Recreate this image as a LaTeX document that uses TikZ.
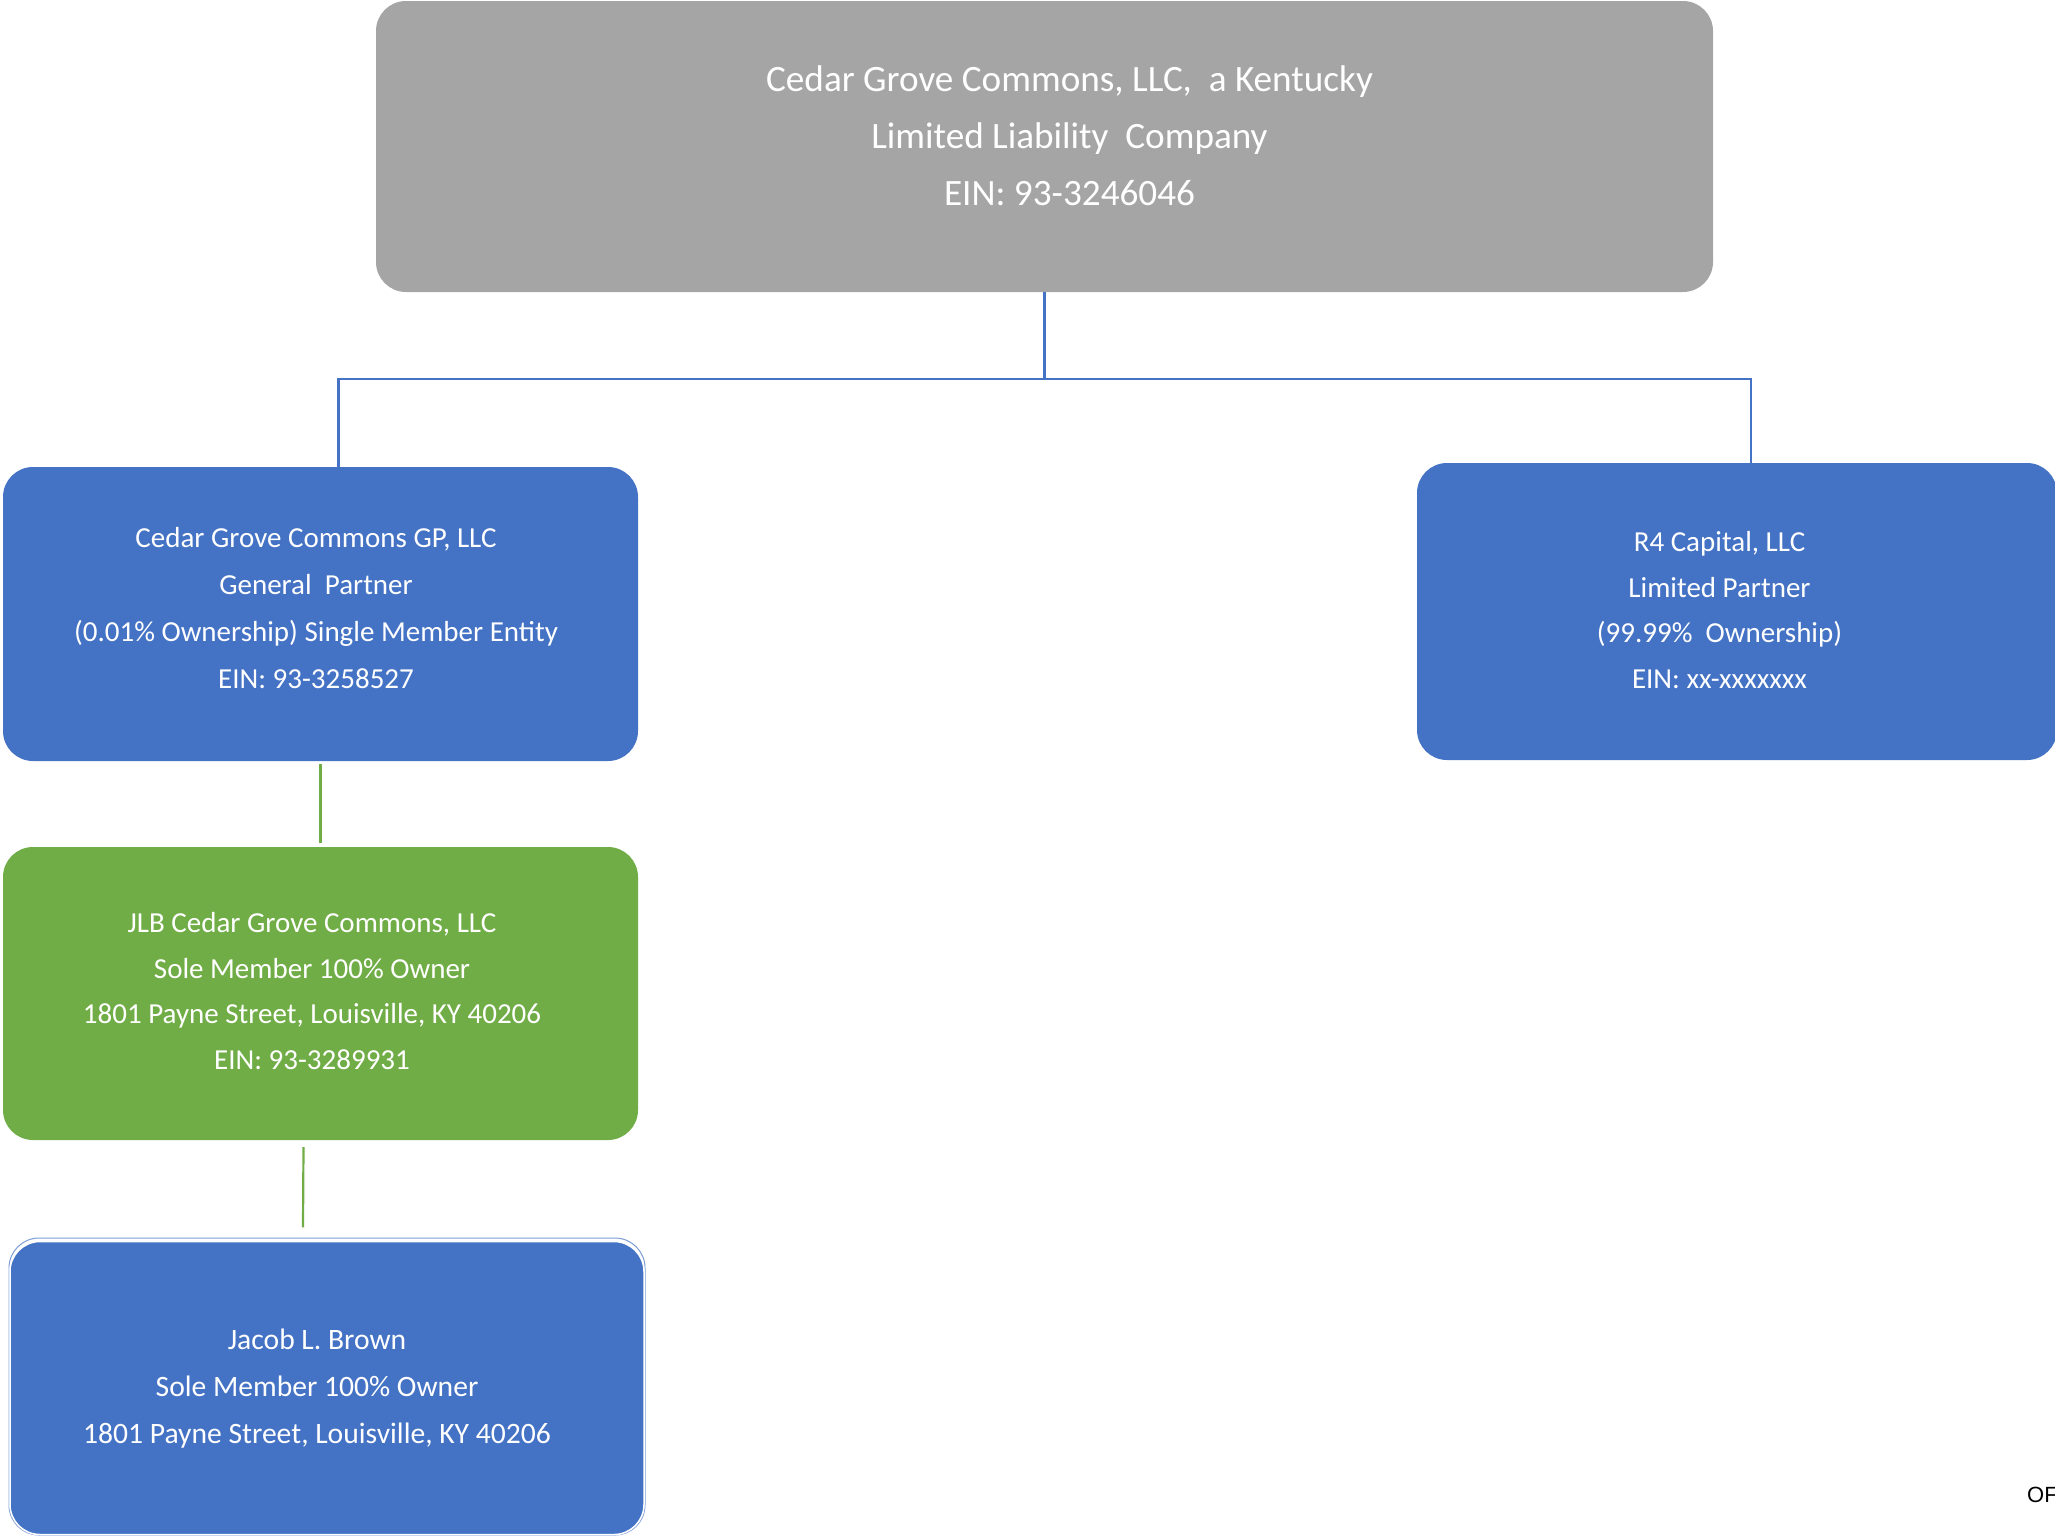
\documentclass[tikz,border=0pt]{standalone}
\usepackage{fontspec}
\setmainfont{Carlito}
\newfontfamily\arialfont{Liberation Sans}
\definecolor{boxgray}{HTML}{A5A5A5}
\definecolor{boxblue}{HTML}{4472C4}
\definecolor{boxgreen}{HTML}{70AD47}
\begin{document}
\begin{tikzpicture}[x=1pt,y=-1pt,
  orgbox/.style={rounded corners=30pt, inner sep=0pt},
  bluebox/.style={orgbox, fill=boxblue},
  greenbox/.style={orgbox, fill=boxgreen},
  graybox/.style={orgbox, fill=boxgray},
  boxtext/.style={text=white, align=center, inner sep=0pt, font={\fontsize{29}{47}\selectfont}},
  toptext/.style={boxtext, font={\fontsize{37.2}{57}\selectfont}},
  conn/.style={draw=boxblue, line width=2.2pt},
  gconn/.style={draw=boxgreen, line width=2.2pt}]
\useasboundingbox (0,0) rectangle (2055,1537);
\node[graybox, minimum width=1337pt, minimum height=291pt] (top) at (1044.5,146.5) {};
\node[toptext] (topT) at (1069.5,136)
  {Cedar Grove Commons, LLC,~ a Kentucky\\Limited Liability~ Company\\EIN: 93-3246046};
\node[bluebox, minimum width=635pt, minimum height=294pt] (gp) at (320.5,614) {};
\node[boxtext] (gpT) at (316,608)
  {Cedar Grove Commons GP, LLC\\General~ Partner\\(0.01\% Ownership) Single Member Entity\\EIN: 93-3258527};
\node[bluebox, minimum width=640pt, minimum height=297pt] (r4) at (1737,611.5) {};
\node[boxtext, font={\fontsize{29}{45.5}\selectfont}] (r4T) at (1719.5,610)
  {R4 Capital, LLC\\Limited Partner\\(99.99\%~ Ownership)\\EIN: xx-xxxxxxx};
\node[greenbox, minimum width=635pt, minimum height=293pt] (jlb) at (320.5,993.5) {};
\node[boxtext, font={\fontsize{29}{45.5}\selectfont}] (jlbT) at (312,991)
  {JLB Cedar Grove Commons, LLC\\Sole Member 100\% Owner\\1801 Payne Street, Louisville, KY 40206\\EIN: 93-3289931};
\draw[boxblue!70, line width=1pt, rounded corners=30pt] (9,1238) rectangle (645,1535);
\node[bluebox, draw=white, line width=1.5pt, minimum width=634pt, minimum height=293pt] (jb) at (327,1388) {};
\node[boxtext, font={\fontsize{29.6}{47}\selectfont}] (jbT) at (317,1389)
  {Jacob L. Brown\\Sole Member 100\% Owner\\1801 Payne Street, Louisville, KY 40206};
\node[font={\arialfont\fontsize{22}{22}\selectfont}, anchor=west, inner sep=0pt] (of) at (2027,1495) {OF};
\draw[conn] (top.south) -- ++(0,87) coordinate (j);
\draw[conn] (j) -| ([xshift=18pt]gp.north);
\draw[conn] (j) -| ([xshift=14pt]r4.north);
\draw[gconn] ([yshift=-3pt]gp.south) -- ([yshift=4pt]jlb.north);
\draw[gconn] ([xshift=-17pt,yshift=-7pt]jlb.south) -- ([xshift=-24pt,yshift=13.5pt]jb.north);
\end{tikzpicture}
\end{document}
